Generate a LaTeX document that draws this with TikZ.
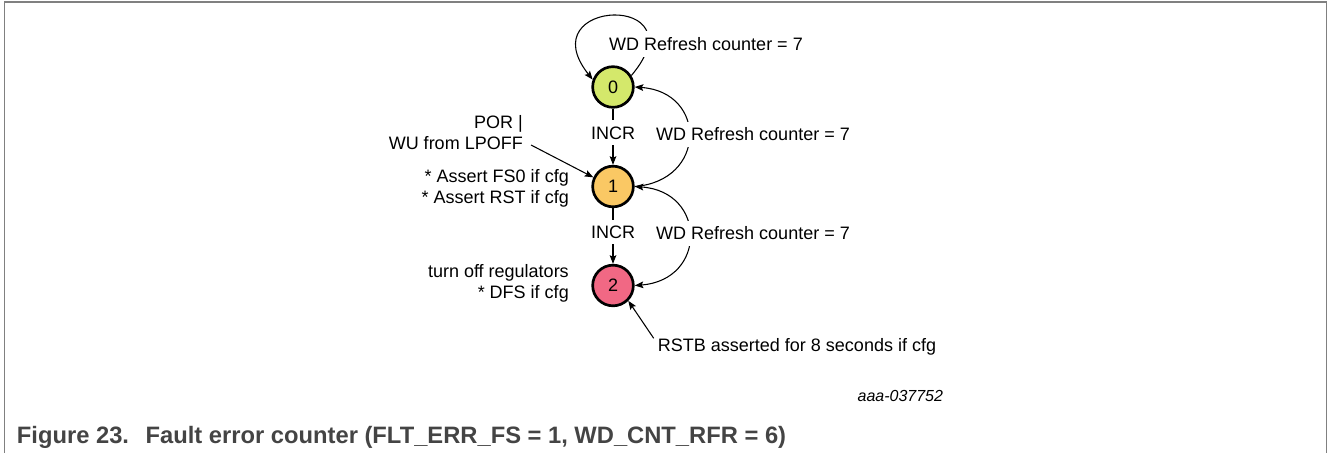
\documentclass[tikz,border=0pt]{standalone}
\usepackage{fontspec}
\setmainfont{Liberation Sans}
\usetikzlibrary{arrows.meta}
\definecolor{stateA}{RGB}{212,232,107}
\definecolor{stateB}{RGB}{250,200,100}
\definecolor{stateC}{RGB}{241,104,132}
\definecolor{framegray}{RGB}{128,128,128}
\definecolor{capgray}{RGB}{68,68,68}
\begin{document}
\begin{tikzpicture}[x=0.75pt,y=-0.75pt,
  state/.style={circle, draw=black, line width=2pt, minimum size=30.5pt, inner sep=0pt, font=\fontsize{13.5}{16}\selectfont},
  lbl/.style={font=\fontsize{13.5}{15.75}\selectfont, inner sep=2pt},
  elbl/.style={lbl, fill=white, inner ysep=4.5pt},
  conn/.style={line width=0.8pt, -{Stealth[length=6.5pt,width=5pt,inset=1.2pt]}},
  dconn/.style={line width=0.8pt, {Stealth[length=6.5pt,width=5pt,inset=1.2pt]}-{Stealth[length=6.5pt,width=5pt,inset=1.2pt]}},
  frameline/.style={draw=framegray, line width=1.1pt}]
\useasboundingbox (0,0) rectangle (1328,453);
\draw[frameline] (4.3,453) -- (4.3,2) -- (1326.7,2) -- (1326.7,453);

% states
\node[state, fill=stateA] (n0) at (613,87) {0};
\node[state, fill=stateB] (n1) at (613,186.5) {1};
\node[state, fill=stateC] (n2) at (613,285.5) {2};

% self loop on 0
\draw[conn] (n0.32) .. controls (702,-8) and (528,-2) .. (n0.160);
\node[elbl] (l0) at (706,44) {WD Refresh counter = 7};

% INCR edges
\draw[conn] (n0) -- node[elbl, pos=0.43] (i1) {INCR} (n1);
\draw[conn] (n1) -- node[elbl, pos=0.43] (i2) {INCR} (n2);

% return arcs
\draw[conn] (n1.east) .. controls (707,181) and (707,92) .. (n0.east);
\node[elbl, anchor=west] (l1) at (653.3,134.4) {WD Refresh counter = 7};
\draw[dconn] (n1.east) .. controls (707,191.5) and (707,280) .. (n2.east);
\node[elbl, anchor=west] (l2) at (653.3,233.3) {WD Refresh counter = 7};

% side texts
\node[lbl, align=right, anchor=east] (por) at (525.7,133) {POR |\\WU from LPOFF};
\coordinate (porout) at (531,145);
\draw[conn] (porout) -- (n1.155);

\node[lbl, align=right, anchor=east] (act1) at (571.7,188.5) {* Assert FS0 if cfg\\* Assert RST if cfg};
\node[lbl, align=right, anchor=east] (act2) at (571.7,283.5) {turn off regulators\\* DFS if cfg};

\node[lbl, anchor=west] (rstb) at (655,346.9) {RSTB asserted for 8 seconds if cfg};
\draw[conn] ([xshift=-1pt,yshift=-2pt]rstb.north west) -- (n2.-45);

% figure id and caption
\node[anchor=east, inner sep=0pt, font=\itshape\fontsize{12}{14}\selectfont] (figid) at (943.3,396) {aaa-037752};
\node[anchor=base west, inner sep=0pt, text=capgray, font=\bfseries\fontsize{17.8}{20}\selectfont] (cap) at (16.7,443)
  {Figure 23.\hspace{0.7em}Fault error counter (FLT\_ERR\_FS = 1, WD\_CNT\_RFR = 6)};
\end{tikzpicture}
\end{document}
